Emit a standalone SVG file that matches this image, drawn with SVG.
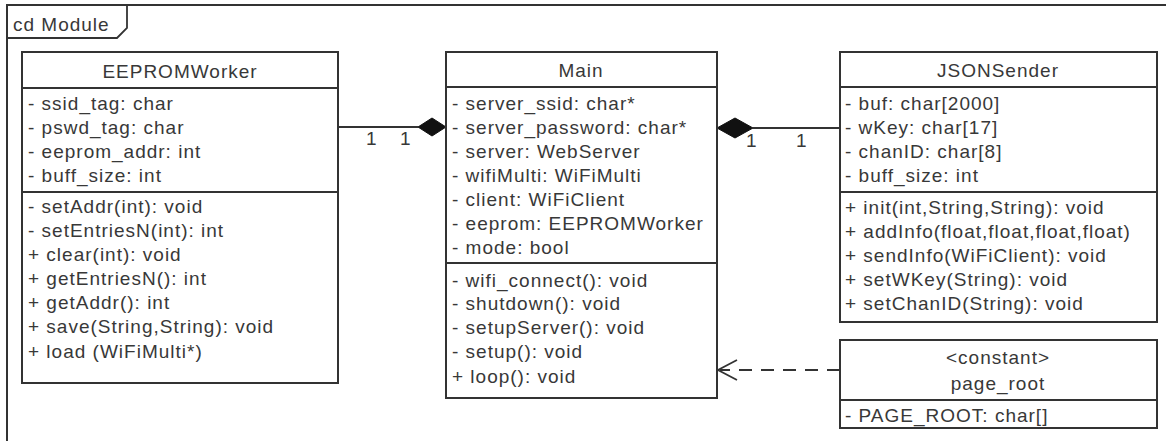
<svg xmlns="http://www.w3.org/2000/svg" width="1166" height="441" viewBox="0 0 1166 441">
<style>
text{font-family:"Liberation Sans",Arial,sans-serif;font-size:19px;fill:#383838;letter-spacing:1px}
.c{text-anchor:middle}
.box{fill:#fff;stroke:#333;stroke-width:2}
.ln{stroke:#333;stroke-width:1.8;fill:none}
</style>
<rect width="1166" height="441" fill="#fff"/>
<g id="frame">
<rect x="7" y="5" width="1200" height="500" fill="none" stroke="#333" stroke-width="2"/>
<path d="M7,38 L117,38 L127,28 L127,5" class="ln" stroke-width="2"/>
<text x="13" y="31">cd Module</text>
</g>
<g id="connectors">
<line x1="338" y1="127" x2="418" y2="127" class="ln"/>
<path d="M418,127 L432,118 L446,127 L432,136 Z" fill="#111" stroke="#111"/>
<text x="366" y="145">1</text>
<text x="400" y="145">1</text>
<line x1="753" y1="128" x2="840" y2="128" class="ln"/>
<path d="M717,128 L735,118 L753,128 L735,138 Z" fill="#111" stroke="#111"/>
<text x="746" y="147">1</text>
<text x="796" y="147">1</text>
<line x1="840" y1="370" x2="720" y2="370" class="ln" stroke-dasharray="13 9"/>
<path d="M737,360 L718,370 L737,380" class="ln"/>
</g>
<g id="EEPROMWorker">
<rect x="22" y="52" width="316" height="331" class="box"/>
<line x1="22" y1="88" x2="338" y2="88" class="ln"/>
<line x1="22" y1="192" x2="338" y2="192" class="ln"/>
<text x="180" y="78" class="c">EEPROMWorker</text>
<text x="28" y="110">- ssid_tag: char</text>
<text x="28" y="134">- pswd_tag: char</text>
<text x="28" y="158">- eeprom_addr: int</text>
<text x="28" y="182">- buff_size: int</text>
<text x="28" y="213">- setAddr(int): void</text>
<text x="28" y="237">- setEntriesN(int): int</text>
<text x="28" y="261">+ clear(int): void</text>
<text x="28" y="285">+ getEntriesN(): int</text>
<text x="28" y="309">+ getAddr(): int</text>
<text x="28" y="333">+ save(String,String): void</text>
<text x="28" y="358">+ load (WiFiMulti*)</text>
</g>
<g id="Main">
<rect x="446" y="52" width="271" height="346" class="box"/>
<line x1="446" y1="87" x2="717" y2="87" class="ln"/>
<line x1="446" y1="263" x2="717" y2="263" class="ln"/>
<text x="581" y="77" class="c">Main</text>
<text x="452" y="110">- server_ssid: char*</text>
<text x="452" y="134">- server_password: char*</text>
<text x="452" y="158">- server: WebServer</text>
<text x="452" y="182">- wifiMulti: WiFiMulti</text>
<text x="452" y="206">- client: WiFiClient</text>
<text x="452" y="230">- eeprom: EEPROMWorker</text>
<text x="452" y="254">- mode: bool</text>
<text x="452" y="287">- wifi_connect(): void</text>
<text x="452" y="310">- shutdown(): void</text>
<text x="452" y="334">- setupServer(): void</text>
<text x="452" y="358">- setup(): void</text>
<text x="452" y="383">+ loop(): void</text>
</g>
<g id="JSONSender">
<rect x="840" y="52" width="317" height="270" class="box"/>
<line x1="840" y1="87" x2="1157" y2="87" class="ln"/>
<line x1="840" y1="192" x2="1157" y2="192" class="ln"/>
<text x="998" y="77" class="c">JSONSender</text>
<text x="845" y="110">- buf: char[2000]</text>
<text x="845" y="134">- wKey: char[17]</text>
<text x="845" y="158">- chanID: char[8]</text>
<text x="845" y="182">- buff_size: int</text>
<text x="845" y="214">+ init(int,String,String): void</text>
<text x="845" y="238">+ addInfo(float,float,float,float)</text>
<text x="845" y="262">+ sendInfo(WiFiClient): void</text>
<text x="845" y="286">+ setWKey(String): void</text>
<text x="845" y="310">+ setChanID(String): void</text>
</g>
<g id="page_root">
<rect x="840" y="340" width="317" height="88" class="box"/>
<line x1="840" y1="400" x2="1157" y2="400" class="ln"/>
<text x="998" y="364" class="c">&lt;constant&gt;</text>
<text x="998" y="390" class="c">page_root</text>
<text x="845" y="422">- PAGE_ROOT: char[]</text>
</g>
</svg>
